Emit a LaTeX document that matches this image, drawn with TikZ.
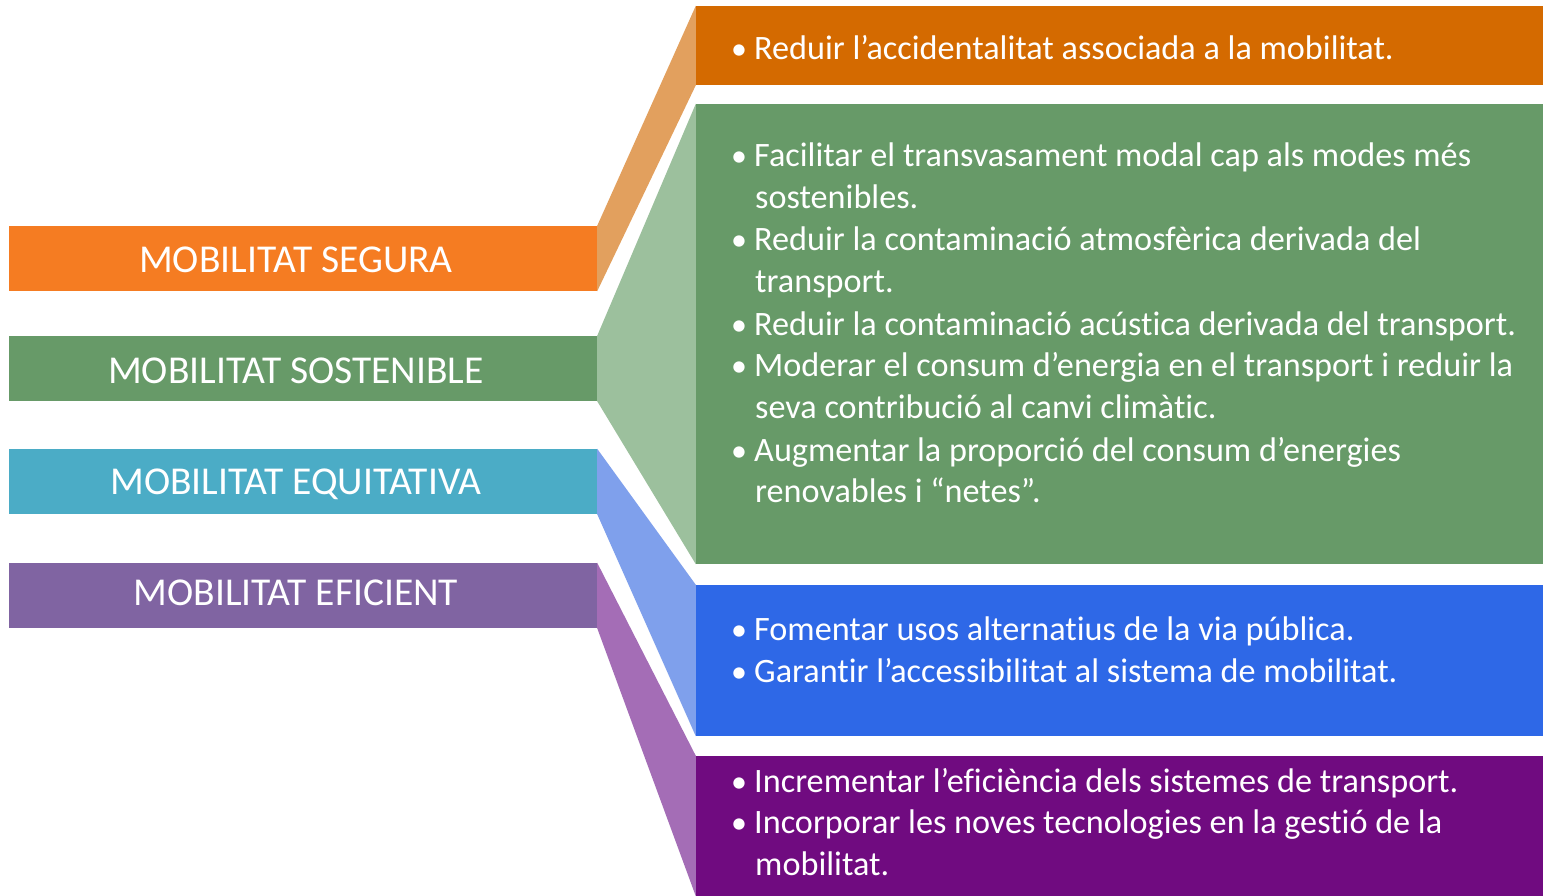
\documentclass[tikz,border=0pt]{standalone}
\usepackage{fontspec}
\setmainfont{Carlito}[Ligatures=NoCommon]
\definecolor{cSeg}{HTML}{F57C22}
\definecolor{cSegC}{HTML}{E2A05E}
\definecolor{cSegR}{HTML}{D46A00}
\definecolor{cSos}{HTML}{679A68}
\definecolor{cSosC}{HTML}{9CC09D}
\definecolor{cEqu}{HTML}{4BACC6}
\definecolor{cEquC}{HTML}{7FA0EC}
\definecolor{cEquR}{HTML}{2E68E7}
\definecolor{cEfi}{HTML}{8064A2}
\definecolor{cEfiC}{HTML}{A46DB6}
\definecolor{cEfiR}{HTML}{700B80}
\tikzset{
  lbox/.style={rectangle, draw=none, inner sep=0pt, minimum width=588, minimum height=65},
  rbox/.style={rectangle, draw=none, inner sep=0pt, minimum width=847},
  lbl/.style={anchor=base, text=white, inner sep=0pt, font=\fontsize{39.5}{46}\selectfont},
  txt/.style={anchor=base west, text=white, inner sep=0pt, font=\fontsize{34.2}{42}\selectfont},
  bul/.style={anchor=base west, text=white, inner sep=0pt, font=\fontsize{32}{42}\selectfont}
}
\begin{document}
\begin{tikzpicture}[x=1pt, y=-1pt]
\useasboundingbox[fill=white] (0,0) rectangle (1549,896);
% left boxes
\node[lbox, fill=cSeg] (l1) at (303,258.5) {};
\node[lbox, fill=cSos] (l2) at (303,368.5) {};
\node[lbox, fill=cEqu] (l3) at (303,481.5) {};
\node[lbox, fill=cEfi] (l4) at (303,595.5) {};
% right boxes
\node[rbox, fill=cSegR, minimum height=79] (r1) at (1119.5,45.5) {};
\node[rbox, fill=cSos, minimum height=460] (r2) at (1119.5,334) {};
\node[rbox, fill=cEquR, minimum height=151] (r3) at (1119.5,660.5) {};
\node[rbox, fill=cEfiR, minimum height=140] (r4) at (1119.5,826) {};
% connectors
\fill[cSegC] (l1.north east) -- (r1.north west) -- (r1.south west) -- (l1.south east) -- cycle;
\fill[cSosC] (l2.north east) -- (r2.north west) -- (r2.south west) -- (l2.south east) -- cycle;
\fill[cEquC] (l3.north east) -- (r3.north west) -- (r3.south west) -- (l3.south east) -- cycle;
\fill[cEfiC] (l4.north east) -- (r4.north west) -- (r4.south west) -- (l4.south east) -- cycle;
% left labels
\node[lbl] (t1) at (296,272) {MOBILITAT SEGURA};
\node[lbl] (t2) at (296,383) {MOBILITAT SOSTENIBLE};
\node[lbl] (t3) at (296,494) {MOBILITAT EQUITATIVA};
\node[lbl] (t4) at (296,605) {MOBILITAT EFICIENT};
% orange text
\node[bul] (b11) at (731,60) {•};
\node[txt] (a11) at (754,60) {Reduir l’accidentalitat associada a la mobilitat.};
% green text
\node[bul] (b21) at (731,167) {•};
\node[txt] (a21) at (754,167) {Facilitar el transvasament modal cap als modes més};
\node[txt] (a21b) at (755,208) {sostenibles.};
\node[bul] (b22) at (731,250) {•};
\node[txt] (a22) at (754,250) {Reduir la contaminació atmosfèrica derivada del};
\node[txt] (a22b) at (755,292) {transport.};
\node[bul] (b23) at (731,335) {•};
\node[txt] (a23) at (754,335) {Reduir la contaminació acústica derivada del transport.};
\node[bul] (b24) at (731,376) {•};
\node[txt] (a24) at (754,376) {Moderar el consum d’energia en el transport i reduir la};
\node[txt] (a24b) at (755,418) {seva contribució al canvi climàtic.};
\node[bul] (b25) at (731,461) {•};
\node[txt] (a25) at (754,461) {Augmentar la proporció del consum d’energies};
\node[txt] (a25b) at (755,502) {renovables i “netes”.};
% blue text
\node[bul] (b31) at (731,640) {•};
\node[txt] (a31) at (754,640) {Fomentar usos alternatius de la via pública.};
\node[bul] (b32) at (731,682) {•};
\node[txt] (a32) at (754,682) {Garantir l’accessibilitat al sistema de mobilitat.};
% purple text
\node[bul] (b41) at (731,792) {•};
\node[txt] (a41) at (754,792) {Incrementar l’eficiència dels sistemes de transport.};
\node[bul] (b42) at (731,833) {•};
\node[txt] (a42) at (754,833) {Incorporar les noves tecnologies en la gestió de la};
\node[txt] (a42b) at (755,875) {mobilitat.};
\end{tikzpicture}
\end{document}
